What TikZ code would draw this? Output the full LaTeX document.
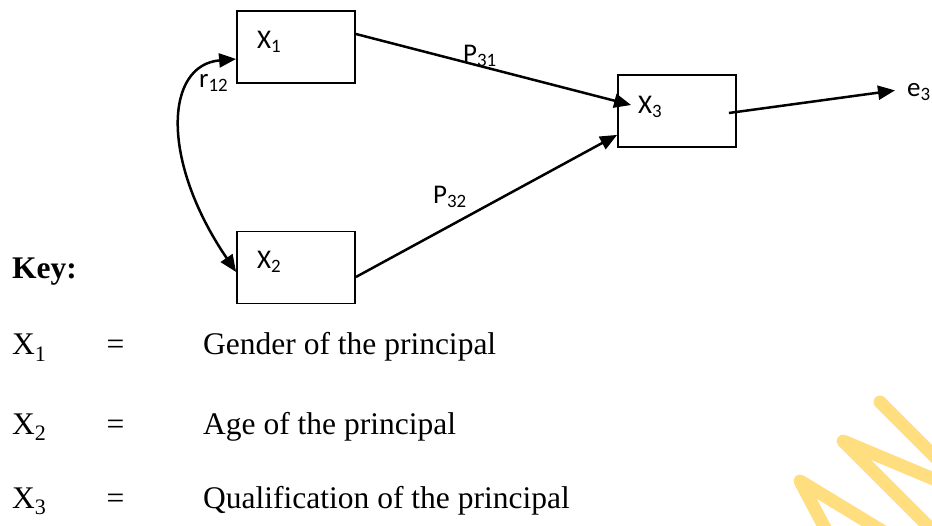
\documentclass[tikz,border=0pt]{standalone}
\usepackage{fontspec}
\setmainfont{Liberation Serif}
\newfontfamily\boxfont{Carlito}
\usetikzlibrary{arrows.meta}
\definecolor{wmgold}{RGB}{255,222,128}
\begin{document}
\begin{tikzpicture}[x=1bp,y=-1bp,
  box/.style={draw, line width=1.8bp, minimum width=118bp, minimum height=72bp, inner sep=0pt},
  lbl/.style={font=\boxfont\fontsize{27bp}{32bp}\selectfont, inner sep=0pt, anchor=base west},
  tip/.style={Triangle[length=17bp,width=14bp]},
  arr/.style={line width=2.5bp, -{Triangle[length=17bp,width=14bp]}},
  dblarr/.style={line width=2.5bp, {Triangle[length=17bp,width=14bp]}-{Triangle[length=17bp,width=14bp]}},
  legend/.style={font=\fontsize{31.5bp}{36bp}\selectfont, inner sep=0pt, anchor=base west},
  eqsign/.style={font=\fontsize{31.5bp}{36bp}\selectfont, inner sep=0pt, anchor=base},
  wm/.style={draw=wmgold, line width=13bp, line cap=round, line join=round},
]
\useasboundingbox (0,0) rectangle (932,526);

% watermark strokes in the lower right corner
\begin{scope}
  \clip (0,0) rectangle (932,526);
  \draw[wm] (827,532) -- (800,481) -- (884,532);
  \draw[wm] (935,533) -- (843,441) -- (936,480);
  \draw[wm] (880,402) -- (936,458);
\end{scope}

% variable boxes
\node[box] (x1) at (296,47) {};
\node[box] (x2) at (296,267.5) {};
\node[box] (x3) at (677,111) {};
\node[lbl] (x1l) at (257,49) {X\textsubscript{1}};
\node[lbl] (x2l) at (257,269) {X\textsubscript{2}};
\node[lbl] (x3l) at (638,114) {X\textsubscript{3}};
\node[lbl] (e3) at (907,97) {e\textsubscript{3}};

% path coefficients
\draw[arr] ([yshift=13bp]x1.east) -- ([xshift=14bp,yshift=6bp]x3.west);
\draw[arr] ([yshift=-9.5bp]x2.east) -- ([yshift=13bp]x3.south west);
\draw[arr] ([xshift=-8bp,yshift=-2bp]x3.east) -- ([xshift=-12bp,yshift=2bp]e3.west);
\draw[dblarr] ([yshift=-12bp]x1.west) .. controls (165,65) and (160,160) .. ([yshift=-4.5bp]x2.west);

\node[lbl] (p31) at (463,63) {P\textsubscript{31}};
\node[lbl] (p32) at (433,204) {P\textsubscript{32}};
\node[lbl] (r12) at (199,88) {r\textsubscript{12}};

% key
\node[legend] (key) at (12,279) {\bfseries Key:};
\node[legend] (k1) at (12,355) {X\textsubscript{1}};
\node[eqsign] (e1) at (115.5,355) {=};
\node[legend] (d1) at (203,355) {Gender of the principal};
\node[legend] (k2) at (12,434) {X\textsubscript{2}};
\node[eqsign] (e2) at (115.5,434) {=};
\node[legend] (d2) at (203,434) {Age of the principal};
\node[legend] (k3) at (12,508) {X\textsubscript{3}};
\node[eqsign] (e3s) at (115.5,508) {=};
\node[legend] (d3) at (203,508) {Qualification of the principal};
\end{tikzpicture}
\end{document}
